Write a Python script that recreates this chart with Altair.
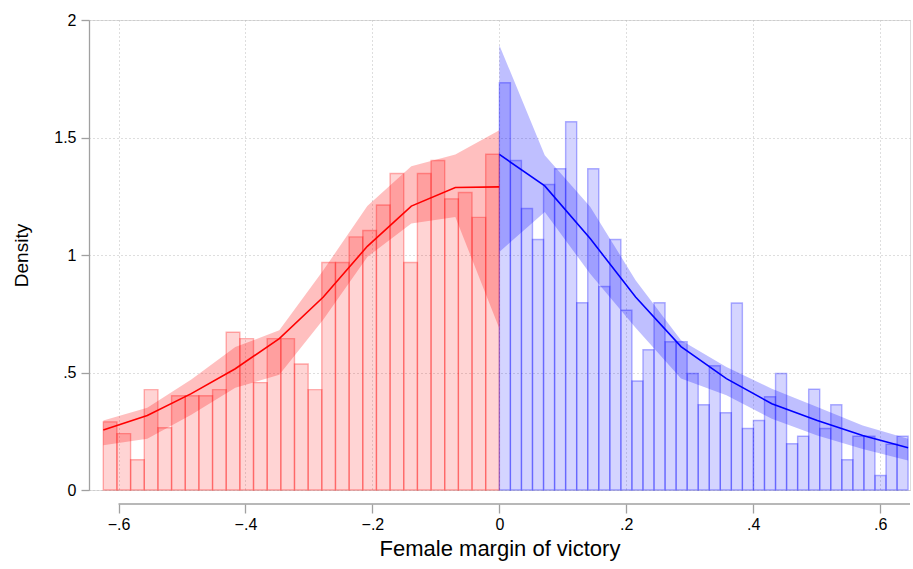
import numpy as np
import pandas as pd
import altair as alt

# ---- data ----
# histogram bar heights (density), left side (female lost) and right side (female won)
red_heights = [0.29, 0.24, 0.129, 0.427, 0.265, 0.401, 0.401, 0.401, 0.427, 0.671,
               0.644, 0.457, 0.644, 0.644, 0.536, 0.427, 0.968, 0.968, 1.077, 1.104,
               1.213, 1.347, 0.968, 1.347, 1.402, 1.239, 1.266, 1.160, 1.429]
blue_heights = [1.733, 1.402, 1.198, 1.066, 1.300, 1.367, 1.567, 0.797, 1.367, 0.866,
                1.066, 0.765, 0.464, 0.597, 0.797, 0.631, 0.631, 0.496, 0.363, 0.529,
                0.329, 0.796, 0.262, 0.296, 0.397, 0.496, 0.197, 0.229, 0.429, 0.262,
                0.363, 0.129, 0.229, 0.229, 0.062, 0.195, 0.229]
x_min = -0.624   # lowest observed margin
x_max = 0.644    # highest observed margin

# density estimate and confidence band, evaluated on 10 grid points per side
red_fit   = [0.255, 0.317, 0.41, 0.516, 0.644, 0.821, 1.037, 1.208, 1.287, 1.290]
red_upper = [0.296, 0.35, 0.47, 0.608, 0.68, 0.935, 1.208, 1.378, 1.428, 1.531]
red_lower = [0.19, 0.218, 0.32, 0.435, 0.49, 0.726, 0.992, 1.134, 1.162, 0.687]
blue_fit   = [1.428, 1.294, 1.07, 0.821, 0.610, 0.474, 0.367, 0.296, 0.232, 0.180]
blue_upper = [1.893, 1.425, 1.205, 0.893, 0.637, 0.523, 0.431, 0.353, 0.275, 0.218]
blue_lower = [1.013, 1.183, 0.92, 0.69, 0.475, 0.403, 0.303, 0.232, 0.175, 0.126]

x_ticks = [-0.6, -0.4, -0.2, 0, 0.2, 0.4, 0.6]
y_ticks = [0, 0.5, 1, 1.5, 2]

# ---- tables ----
red_edges = np.linspace(x_min, 0, len(red_heights) + 1)
blue_edges = np.linspace(0, x_max, len(blue_heights) + 1)
bars = pd.concat([
    pd.DataFrame({"x0": red_edges[:-1], "x1": red_edges[1:], "h": red_heights, "side": "L"}),
    pd.DataFrame({"x0": blue_edges[:-1], "x1": blue_edges[1:], "h": blue_heights, "side": "R"}),
])
fit = pd.concat([
    pd.DataFrame({"x": np.linspace(x_min, 0, 10), "f": red_fit, "lo": red_lower,
                  "hi": red_upper, "side": "L"}),
    pd.DataFrame({"x": np.linspace(0, x_max, 10), "f": blue_fit, "lo": blue_lower,
                  "hi": blue_upper, "side": "R"}),
])

W, H = 821, 470
FONT = "Liberation Sans"
xdom = [-0.6465, 0.647]
col = alt.Color("side:N", scale=alt.Scale(domain=["L", "R"], range=["#ff0000", "#0000ff"]),
                legend=None)

lab = "replace(replace(format(datum.value, '.1~f'), '-0.', '-.'), '0.', '.')"

xs = alt.Scale(domain=xdom, nice=False, zero=False)
ys = alt.Scale(domain=[0, 2], nice=False)

x_axis = alt.Axis(values=x_ticks, labelExpr=lab, title="Female margin of victory",
                  domain=False, offset=14, tickSize=9, tickColor="#a0a0a0", tickWidth=1.3,
                  labelPadding=3, labelFontSize=16, labelFont=FONT, labelColor="#000",
                  titleFont=FONT, titleFontSize=22, titleFontWeight="normal",
                  titleColor="#000", titlePadding=6,
                  grid=True, gridDash=[1, 3], gridColor="#bdbdbd", gridWidth=1)
y_axis = alt.Axis(values=y_ticks, labelExpr=lab, title="Density",
                  domain=True, domainColor="#a0a0a0", domainWidth=1.3,
                  tickSize=8, tickColor="#a0a0a0", tickWidth=1.3,
                  labelPadding=5, labelFontSize=16, labelFont=FONT, labelColor="#000",
                  titleFont=FONT, titleFontSize=19, titleFontWeight="normal",
                  titleColor="#000", titlePadding=22,
                  grid=True, gridDash=[1, 3], gridColor="#bdbdbd", gridWidth=1)

hist = alt.Chart(bars).mark_bar(fillOpacity=0.17, strokeOpacity=0.3, strokeWidth=1.4).encode(
    x=alt.X("x0:Q", scale=xs, axis=x_axis),
    x2="x1:Q",
    y=alt.Y("h:Q", scale=ys, axis=y_axis),
    y2=alt.datum(0),
    color=col,
    stroke=col,
)

band = alt.Chart(fit).mark_area(opacity=0.25, interpolate="linear").encode(
    x=alt.X("x:Q", scale=xs),
    y=alt.Y("lo:Q", scale=ys),
    y2="hi:Q",
    color=col,
    detail="side:N",
)

line = alt.Chart(fit).mark_line(strokeWidth=1.6).encode(
    x=alt.X("x:Q", scale=xs),
    y=alt.Y("f:Q", scale=ys),
    color=col,
    detail="side:N",
)

xline = alt.Chart(pd.DataFrame({"a": [0]})).mark_rule(color="#a0a0a0", strokeWidth=1.3,
                                                      clip=False).encode(
    x=alt.X(datum=-0.6),
    x2=alt.X2(datum=xdom[1]),
    y=alt.value(H + 14),
)

chart = alt.layer(hist, band, line, xline).properties(
    width=W, height=H,
    autosize=alt.AutoSizeParams(type="none"),
    padding={"left": 89, "top": 20, "right": 3, "bottom": 79},
).configure_view(stroke=None).configure(background="white")

chart.save("out.html", embed_options={"renderer": "svg", "actions": False})
